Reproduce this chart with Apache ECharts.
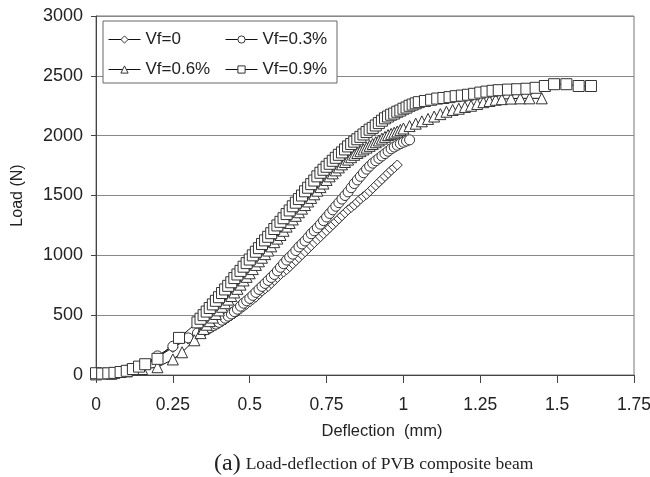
<!DOCTYPE html>
<html>
<head>
<meta charset="utf-8">
<script src="https://cdn.jsdelivr.net/npm/echarts@6/dist/echarts.min.js"></script>
<style>
  html, body { margin: 0; padding: 0; background: #fff; }
  #chart { width: 650px; height: 477px; }
</style>
</head>
<body>
<div id="chart"></div>
<script>
// load-deflection readings, [deflection mm, load N]
var vf0 = [[0,0],[0.05,10],[0.10,30],[0.15,70],[0.20,150],[0.25,230],[0.30,300],[0.33,340],[0.35,360],[0.37,385],
  [0.38,400],[0.39,415],[0.40,430],[0.41,445],[0.42,460],[0.43,478],[0.44,495],[0.45,512],[0.46,530],[0.47,550],
  [0.48,570],[0.49,590],[0.50,610],[0.51,630],[0.52,650],[0.53,675],[0.54,700],[0.55,720],[0.56,740],[0.57,765],
  [0.58,790],[0.59,815],[0.60,840],[0.61,860],[0.62,880],[0.63,905],[0.64,930],[0.65,955],[0.66,980],[0.67,1005],
  [0.68,1030],[0.69,1055],[0.70,1080],[0.71,1105],[0.72,1130],[0.73,1155],[0.74,1180],[0.75,1205],[0.76,1230],[0.77,1255],
  [0.78,1280],[0.79,1305],[0.80,1330],[0.81,1355],[0.82,1380],[0.83,1400],[0.84,1420],[0.85,1445],[0.86,1470],[0.87,1490],
  [0.88,1510],[0.89,1535],[0.90,1560],[0.91,1585],[0.92,1610],[0.93,1635],[0.94,1660],[0.95,1685],[0.96,1710],[0.97,1732],
  [0.98,1755]];

var vf03 = [[0,5],[0.05,15],[0.10,40],[0.15,80],[0.20,160],[0.25,240],[0.30,310],[0.33,350],[0.35,370],[0.37,395],
  [0.38,410],[0.39,425],[0.40,440],[0.41,458],[0.42,475],[0.43,492],[0.44,510],[0.45,530],[0.46,550],[0.47,575],
  [0.48,600],[0.49,620],[0.50,640],[0.51,665],[0.52,690],[0.53,715],[0.54,740],[0.55,765],[0.56,790],[0.57,815],
  [0.58,840],[0.59,870],[0.60,900],[0.61,930],[0.62,960],[0.63,985],[0.64,1010],[0.65,1040],[0.66,1070],[0.67,1095],
  [0.68,1120],[0.69,1150],[0.70,1180],[0.71,1205],[0.72,1230],[0.73,1260],[0.74,1290],[0.75,1320],[0.76,1350],[0.77,1380],
  [0.78,1410],[0.79,1440],[0.80,1470],[0.81,1500],[0.82,1530],[0.83,1565],[0.84,1600],[0.85,1630],[0.86,1660],[0.87,1690],
  [0.88,1720],[0.89,1745],[0.90,1770],[0.91,1790],[0.92,1810],[0.93,1830],[0.94,1850],[0.95,1870],[0.96,1890],[0.97,1905],
  [0.98,1920],[0.99,1933],[1.00,1945],[1.01,1955],[1.02,1965]];

var vf06 = [[0,5],[0.05,10],[0.10,30],[0.15,50],[0.20,65],[0.25,130],[0.28,190],[0.32,290],[0.34,350],[0.35,385],
  [0.36,420],[0.37,450],[0.38,480],[0.39,510],[0.40,540],[0.41,570],[0.42,600],[0.43,630],[0.44,660],[0.45,690],
  [0.46,720],[0.47,755],[0.48,790],[0.49,820],[0.50,850],[0.51,885],[0.52,920],[0.53,950],[0.54,980],[0.55,1010],
  [0.56,1040],[0.57,1075],[0.58,1110],[0.59,1140],[0.60,1170],[0.61,1205],[0.62,1240],[0.63,1270],[0.64,1300],[0.65,1330],
  [0.66,1360],[0.67,1390],[0.68,1420],[0.69,1450],[0.70,1480],[0.71,1510],[0.72,1540],[0.73,1570],[0.74,1600],[0.75,1630],
  [0.76,1660],[0.77,1685],[0.78,1710],[0.79,1735],[0.80,1760],[0.81,1780],[0.82,1800],[0.83,1820],[0.84,1840],[0.85,1855],
  [0.86,1870],[0.87,1885],[0.88,1900],[0.89,1915],[0.90,1930],[0.91,1945],[0.92,1960],[0.93,1975],[0.94,1990],[0.95,2005],
  [0.96,2015],[0.97,2025],[0.98,2035],[0.99,2048],[1.00,2060],[1.02,2080],[1.04,2100],[1.06,2120],[1.08,2140],[1.10,2160],
  [1.12,2180],[1.14,2200],[1.16,2215],[1.18,2225],[1.20,2240],[1.22,2250],[1.24,2265],[1.26,2280],[1.28,2290],[1.30,2300],
  [1.32,2305],[1.35,2310],[1.38,2312],[1.41,2312],[1.45,2312]];

var vf09 = [[0,15],[0.02,12],[0.04,14],[0.06,18],[0.08,25],[0.10,35],[0.12,50],[0.14,70],[0.16,90],[0.20,135],
  [0.27,310],[0.33,440],[0.34,470],[0.35,500],[0.36,530],[0.37,560],[0.38,590],[0.39,620],[0.40,650],[0.41,685],
  [0.42,715],[0.43,745],[0.44,775],[0.45,810],[0.46,840],[0.47,870],[0.48,905],[0.49,935],[0.50,965],[0.51,1000],
  [0.52,1030],[0.53,1060],[0.54,1095],[0.55,1125],[0.56,1155],[0.57,1185],[0.58,1220],[0.59,1250],[0.60,1280],[0.61,1310],
  [0.62,1345],[0.63,1375],[0.64,1410],[0.65,1440],[0.66,1470],[0.67,1500],[0.68,1535],[0.69,1565],[0.70,1595],[0.71,1625],
  [0.72,1660],[0.73,1690],[0.74,1715],[0.75,1740],[0.76,1765],[0.77,1790],[0.78,1815],[0.79,1840],[0.80,1860],[0.81,1885],
  [0.82,1910],[0.83,1930],[0.84,1950],[0.85,1970],[0.86,1990],[0.87,2010],[0.88,2030],[0.89,2050],[0.90,2065],[0.91,2085],
  [0.92,2105],[0.93,2125],[0.94,2145],[0.95,2160],[0.96,2175],[0.97,2185],[0.98,2200],[0.99,2210],[1.00,2225],[1.01,2235],
  [1.02,2250],[1.03,2260],[1.04,2270],[1.05,2280],[1.07,2290],[1.09,2300],[1.11,2310],[1.13,2315],[1.15,2322],[1.17,2330],
  [1.19,2335],[1.21,2342],[1.23,2350],[1.25,2360],[1.27,2368],[1.29,2375],[1.31,2380],[1.34,2385],[1.37,2388],[1.40,2392],
  [1.43,2400],[1.46,2415],[1.49,2430],[1.53,2430],[1.57,2415],[1.61,2415]];

var names = ["Vf=0", "Vf=0.3%", "Vf=0.6%", "Vf=0.9%"];
var symbols = ["diamond", "circle", "triangle", "rect"];
var sizes = [10, 10, 11, 11];
var allData = [vf0, vf03, vf06, vf09];

var font = "Liberation Sans, Arial, sans-serif";

var series = [];
for (var i in allData) {
    series.push({
        name: names[i],
        type: "line",
        data: allData[i],
        symbol: symbols[i],
        symbolSize: sizes[i],
        showAllSymbol: true,
        lineStyle: { color: "#111", width: 1 },
        itemStyle: { color: "#fff", borderColor: "#333", borderWidth: 1 },
        emphasis: { disabled: true },
        animation: false
    });
}

var legendStyle = {
    orient: "vertical",
    top: 26,
    itemGap: 13,
    itemWidth: 32,
    itemHeight: 9,
    z: 10,
    lineStyle: { width: 1, color: "#111" },
    itemStyle: { color: "#fff", borderColor: "#333", borderWidth: 1 },
    textStyle: { fontFamily: font, fontSize: 17, color: "#222" }
};

var chart = echarts.init(document.getElementById("chart"));
chart.setOption({
    animation: false,
    backgroundColor: "#fff",
    grid: {
        left: 96, right: 16, top: 16, bottom: 102,
        outerBoundsMode: "none",
        show: true, borderColor: "#777", borderWidth: 1
    },
    title: {
        text: "{a|(a)} {b|Load-deflection of PVB composite beam}",
        left: 209,
        top: 447,
        textStyle: {
            fontWeight: "normal",
            rich: {
                a: { fontFamily: "Liberation Serif, serif", fontSize: 24, fontWeight: "normal", color: "#222" },
                b: { fontFamily: "Liberation Serif, serif", fontSize: 17.5, fontWeight: "normal", color: "#222" }
            }
        }
    },
    legend: [
        Object.assign({ left: 103, data: ["Vf=0", "Vf=0.6%"] }, legendStyle),
        Object.assign({ left: 220, data: ["Vf=0.3%", "Vf=0.9%"] }, legendStyle)
    ],
    graphic: [{
        type: "rect",
        shape: { x: 103, y: 21, width: 234, height: 62 },
        style: { fill: "#fff", stroke: "#666", lineWidth: 1 },
        z: 3
    }],
    xAxis: {
        type: "value",
        min: 0, max: 1.75, interval: 0.25,
        name: "Deflection  (mm)",
        nameLocation: "middle",
        nameGap: 48,
        nameTextStyle: { fontFamily: font, fontSize: 16.5, color: "#222", padding: [0, 0, 0, 34] },
        axisLine: { lineStyle: { color: "#444", width: 1 } },
        axisTick: { length: 8, lineStyle: { color: "#444" } },
        axisLabel: { margin: 21, fontFamily: font, fontSize: 17.5, color: "#222" },
        splitLine: { show: false }
    },
    yAxis: {
        type: "value",
        min: 0, max: 3000, interval: 500,
        name: "Load (N)",
        nameLocation: "middle",
        nameGap: 70,
        nameTextStyle: { fontFamily: font, fontSize: 16, color: "#222" },
        axisLine: { show: true, lineStyle: { color: "#444", width: 1 } },
        axisTick: { show: true, length: 5, lineStyle: { color: "#444" } },
        axisLabel: {
            margin: 13, fontFamily: font, fontSize: 18, color: "#222",
            formatter: function (v) { return String(v); }
        },
        splitLine: { lineStyle: { color: "#888", width: 1 } }
    },
    series: series
});
</script>
</body>
</html>
